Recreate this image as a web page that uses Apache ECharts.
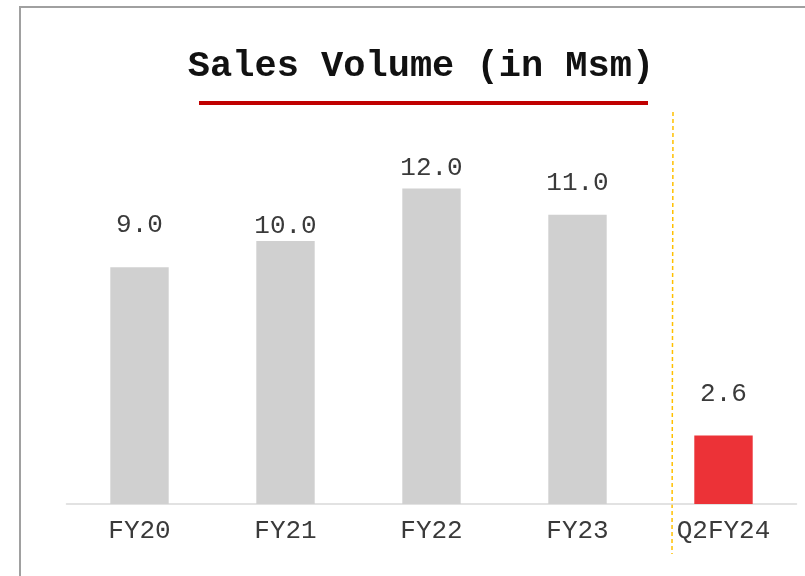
<!DOCTYPE html>
<html><head><meta charset="utf-8">
<script src="https://cdn.jsdelivr.net/npm/echarts@6/dist/echarts.min.js"></script>
<style>html,body{margin:0;padding:0;background:#fff}#c{width:805px;height:576px}</style>
</head><body><div id="c"></div>
<script>
const categories = ['FY20','FY21','FY22','FY23','Q2FY24'];
const salesVolume = [9.0, 10.0, 12.0, 11.0, 2.6];
const barColors = ['#d0d0d0','#d0d0d0','#d0d0d0','#d0d0d0','#ec3237'];
const labelGaps = [29, 2, 7, 19, 29];
const titleText = 'Sales Volume (in Msm)';

const chart = echarts.init(document.getElementById('c'), null, {renderer:'canvas'});
const FONT = '"Liberation Mono", "Courier New", monospace';
chart.setOption({
  animation:false,
  backgroundColor:'#fff',
  grid:{left:66.5, right:8.5, top:109.5, bottom:72},
  xAxis:{type:'category', data:categories,
    axisLine:{lineStyle:{color:'#d9d9d9', width:1.5}},
    axisTick:{show:false},
    axisLabel:{fontFamily:FONT, fontSize:26, color:'#3a3a3a', margin:14}},
  yAxis:{type:'value', min:0, max:15, show:false, splitLine:{show:false}},
  series:[{type:'bar', barWidth:'40%',
    data: salesVolume.map((v,i)=>({value:v, itemStyle:{color:barColors[i]},
      label:{distance:labelGaps[i]}})),
    label:{show:true, position:'top', fontFamily:FONT, fontSize:26, color:'#3a3a3a',
      formatter:p=>p.value.toFixed(1)}}],
  graphic:[
    {type:'rect', shape:{x:20, y:7, width:820, height:620}, style:{fill:null, stroke:'#a0a0a0', lineWidth:2}, silent:true},
    {type:'text', x:421, y:67, style:{text:titleText, font:'bold 37px '+FONT, fill:'#111', textAlign:'center', textVerticalAlign:'middle'}},
    {type:'rect', shape:{x:199, y:101, width:449, height:4}, style:{fill:'#c00000'}},
    {type:'line', shape:{x1:673, y1:112, x2:672, y2:554}, style:{stroke:'#ffc000', lineWidth:1.5, lineDash:[4,3]}}
  ]
});
</script></body></html>
